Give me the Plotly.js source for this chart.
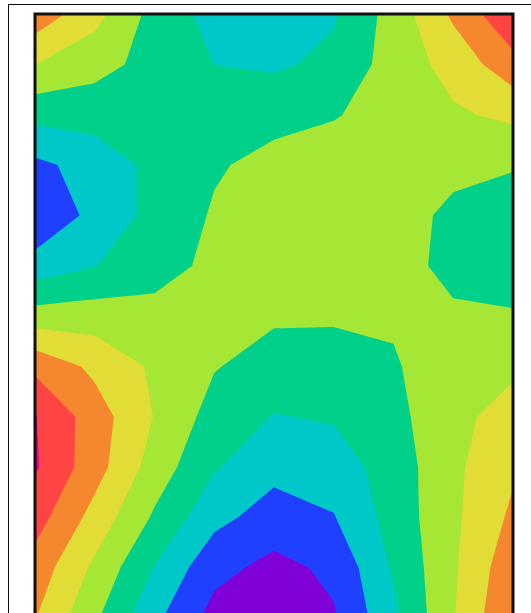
<!DOCTYPE html>
<html>
<head>
<meta charset="utf-8">
<script src="https://cdn.plot.ly/plotly-3.0.1.min.js"></script>
<style>
  html, body { margin: 0; padding: 0; background: #fff; overflow: hidden; }
  #chart { position: absolute; left: 0; top: 0; width: 531px; height: 640px; }
  #border { position: absolute; left: 8px; top: 4px; width: 700px; height: 800px;
            border-left: 1px solid #111; border-top: 1px solid #111; pointer-events: none; }
</style>
</head>
<body>
<div id="chart"></div>
<div id="border"></div>
<script>
// grid coordinates (columns and rows of the sampled field)
const xs = [0, 1, 2, 3, 4, 5, 6, 7, 8];
const ys = [0, 1, 2, 3, 4, 5, 6, 7, 8, 9, 10, 11, 12];

// field values, one row per y (top to bottom)
const r00 = [6.65, 5.35, 3.64, 2.65, 2.5, 2.9, 4.4, 6.18, 7.89];
const r01 = [5.02, 4.34, 3.67, 2.99, 2.85, 3.225, 4.44, 5.36, 6.65];
const r02 = [3.3, 3.43, 3.55, 3.5, 3.73, 3.93, 4.4, 4.87, 5.21];
const r03 = [1.77, 2.38, 3.27, 3.9, 4.27, 4.5, 4.6, 4.45, 4.1];
const r04 = [1.13, 2.29, 3.30, 4.1, 4.6, 4.7, 4.74, 3.62, 3.39];
const r05 = [2.39, 2.97, 3.66, 4.2, 4.65, 4.7, 4.7, 3.49, 3.3];
const r06 = [4.43, 4.51, 4.28, 4.4, 4.13, 4.14, 4.11, 4.28, 4.13];
const r07 = [6.76, 5.77, 4.84, 4.06, 3.6, 3.5, 3.91, 4.55, 4.7];
const r08 = [8.05, 6.49, 4.96, 3.6, 2.955, 3.1, 3.77, 4.57, 5.65];
const r09 = [8.12, 6.42, 4.55, 3.1, 2.3, 2.5, 3.45, 4.79, 5.85];
const r10 = [7.44, 5.64, 3.86, 2.3, 1.55, 1.95, 3.4, 4.8, 6.2];
const r11 = [6.59, 4.8, 2.95, 1.3, 0.72, 1.2, 3.12, 4.85, 6.7];
const r12 = [6.05, 4.16, 2.23, 0.65, 0.4, 0.9, 2.79, 4.94, 7.04];

// band colours, lowest to highest
const bandColors = ['#8000d8', '#2040ff', '#00c8c8', '#00d08a', '#a6e634',
                    '#e2dc36', '#f5882e', '#ff4444', '#e6008c'];

const z = [r00, r01, r02, r03, r04, r05, r06, r07, r08, r09, r10, r11, r12];
const colorscale = bandColors.map((c, i) => [i / (bandColors.length - 1), c]);

const trace = {
  type: 'contour',
  x: xs,
  y: ys,
  z: z,
  colorscale: colorscale,
  autocontour: false,
  contours: { start: 1, end: 8, size: 1, coloring: 'fill', showlines: false },
  line: { width: 0, smoothing: 0 },
  showscale: false,
  hoverinfo: 'skip'
};

const axisCommon = {
  showgrid: false, zeroline: false, showticklabels: false, ticks: '',
  showline: false, fixedrange: true
};

const layout = {
  width: 531,
  height: 640,
  margin: { l: 35, r: 18, t: 14, b: 22, pad: 0 },
  paper_bgcolor: '#ffffff',
  plot_bgcolor: '#ffffff',
  xaxis: Object.assign({}, axisCommon, { range: [0, 8] }),
  yaxis: Object.assign({}, axisCommon, { range: [12, 0] }),
  shapes: [{
    type: 'rect', xref: 'paper', yref: 'paper', x0: 0, x1: 1, y0: 0, y1: 1,
    line: { color: '#111111', width: 3 }, layer: 'above'
  }],
  showlegend: false
};

Plotly.newPlot('chart', [trace], layout, { staticPlot: true, displayModeBar: false });
</script>
</body>
</html>
